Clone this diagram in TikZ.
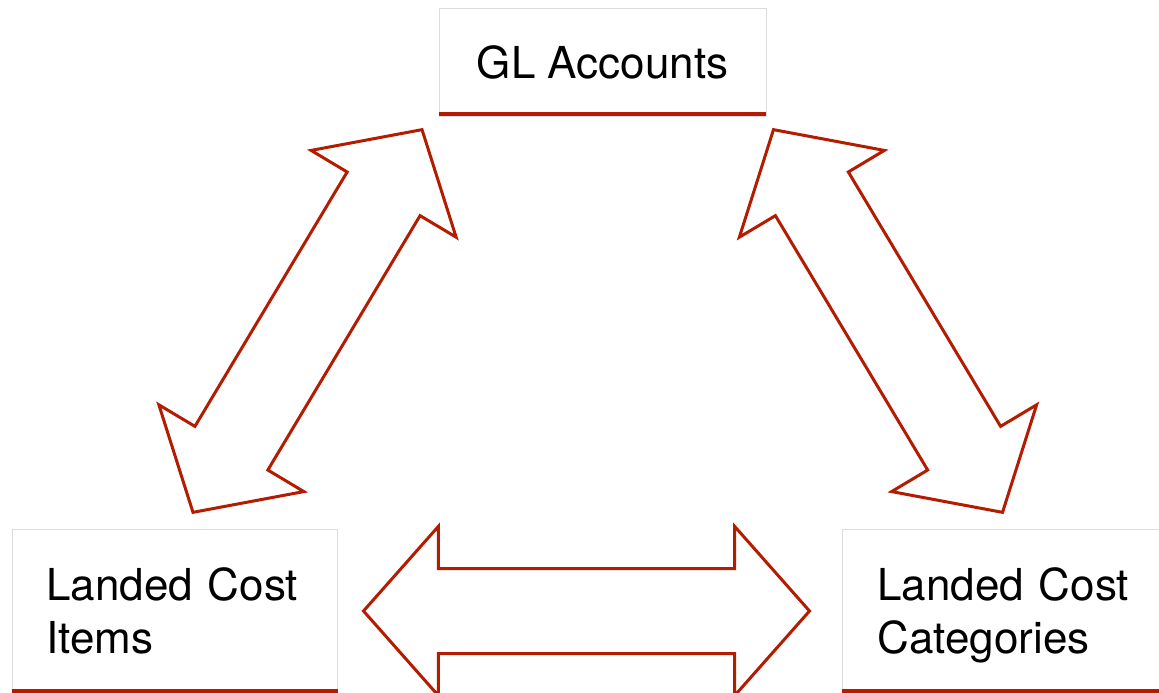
\documentclass[tikz,border=0pt]{standalone}
\usepackage{fontspec}
\setmainfont{TeX Gyre Heros}
\usepackage{tikz}
\usetikzlibrary{shapes.arrows}
\usepackage{xcolor}
\definecolor{barred}{HTML}{B31C00}
\definecolor{framegray}{HTML}{DCDCDC}

\begin{document}
\begin{tikzpicture}[
	x=1pt,y=-1pt,
	box/.style={rectangle,draw=framegray,line width=0.8pt,inner ysep=0pt,align=left,
		font=\fontsize{44}{53}\selectfont},
	lowbox/.style={box,anchor=north west,text height=71pt,text depth=92pt},
	bar/.style={draw=barred,line width=4pt},
	link/.style={double arrow,draw=barred,line width=3pt,inner xsep=0pt,inner ysep=41pt,
		minimum height=446pt,minimum width=166pt,
		double arrow head extend=42pt,double arrow tip angle=97},
	]
		\useasboundingbox (0,0) rectangle (1159,693);
		\node[box,inner xsep=0pt,minimum width=327pt,minimum height=108pt] (GL) at (602.5,62) {GL Accounts};
		\node[lowbox,inner xsep=34pt,text width=257pt] (LCI) at (12,529) {Landed Cost\\Items};
		\node[lowbox,inner xsep=35pt,text width=290pt] (LCC) at (842,529) {Landed Cost\\Categories};
		\foreach \B in {GL,LCI,LCC}{
			\draw[bar] ([yshift=2pt]\B.south west) -- ([yshift=2pt]\B.south east);
		}
		\node[link,rotate=59.1] (A1) at (307.5,321) {};
		\node[link,rotate=-59.1] (A2) at (888,321) {};
		\node[link] (A3) at (586.5,611) {};
	\end{tikzpicture}
\end{document}
